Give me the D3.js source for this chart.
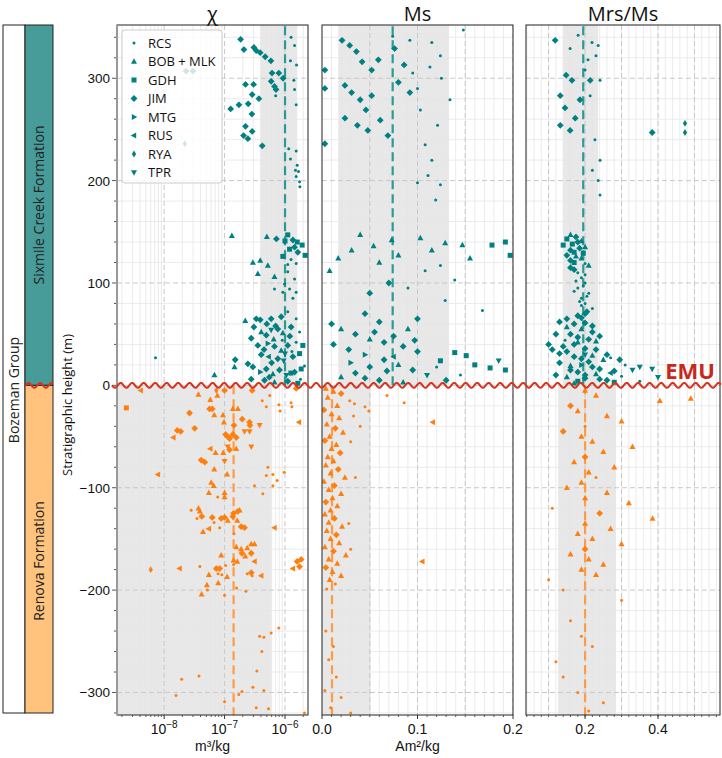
<!DOCTYPE html>
<html>
<head>
<meta charset="utf-8">
<script src="https://cdn.jsdelivr.net/npm/d3@7"></script>
<style>
body { margin: 0; background: #fff; }
text { font-family: "Liberation Sans", Arial, sans-serif; }
</style>
</head>
<body>
<div id="chart"></div>
<script>
var sites = ["RCS", "BOB + MLK", "GDH", "JIM", "MTG", "RUS", "RYA", "TPR"];
var markers = [".", "^", "s", "D", ">", "<", "d", "v"];
var yTicks = [-300, -200, -100, 0, 100, 200, 300];
var chiTicks = [1e-8, 1e-7, 1e-6];
var msTicks = [0, 0.1, 0.2];
var mrsTicks = [0.2, 0.4];

// [height (m), value, site index]
var chiSixmile = [
  [338,1.84e-7,3],[328,2.09e-7,3],[330,3.06e-7,3],[327,3.34e-7,3],[325,3.89e-7,3],[321,4.7e-7,3],[317,5.84e-7,3],
  [340,1.26e-6,0],[332,1.44e-6,0],[317,1.23e-6,0],[313,1.55e-6,0],
  [305,6.1e-7,3],[305,7.9e-7,3],[300,9.3e-7,3],[297,5.9e-7,3],[292,6.7e-7,3],[289,7.1e-7,3],[283,7.0e-7,0],[298,1.4e-6,0],[289,1.44e-6,0],[274,1.53e-6,0],
  [294,2.22e-7,3],[294,3.02e-7,3],[284,2.86e-7,3],[280,3.7e-7,3],[274,1.73e-7,3],[275,2.46e-7,3],[270,1.26e-7,3],[265,2.83e-7,3],[253,2.22e-7,3],[248,2.86e-7,3],[244,2.06e-7,3],[241,2.43e-7,3],[234,4.2e-7,3],
  [307,2.3e-8,3],[307,3.0e-8,3],[236,2.2e-8,6],
  [231,1.15e-6,0],[229,1.53e-6,0],[221,1.23e-6,0],[215,1.59e-6,0],[210,1.49e-6,0],[209,1.67e-6,0],[204,1.53e-6,0],[199,1.74e-6,0],[194,1.76e-6,0],
  [146,1.32e-7,1],[145,5.0e-7,1],[143,7.2e-7,3],[147,1.11e-6,2],[141,1.0e-6,2],[142,1.35e-6,3],[140,1.59e-6,2],[137,1.92e-6,2],[135,1.44e-6,3],[133,1.19e-6,2],[130,1.63e-6,3],[127,2.15e-6,2],[126,9.2e-7,2],[123,1.26e-6,0],[119,1.53e-6,0],[118,1.11e-6,0],
  [120,2.94e-7,1],[122,3.89e-7,1],[109,3.55e-7,1],[117,5.2e-7,1],[106,6.7e-7,1],
  [111,1.11e-6,0],[104,1.44e-6,0],[99,9.8e-7,0],[94,1.19e-6,0],[91,9.2e-7,0],[85,1.35e-6,0],[91,1.53e-6,0],[94,6.7e-7,0],
  [63,2.2e-7,1],[65,3.34e-7,3],[64,3.89e-7,3],[65,5.9e-7,3],[67,8.65e-7,3],[72,1.11e-6,0],[65,1.53e-6,0],
  [57,3.06e-7,3],[52,4.04e-7,1],[46,2.76e-7,3],[49,4.9e-7,3],[54,5.9e-7,7],[55,7.6e-7,3],[51,9.2e-7,1],[57,1.26e-6,3],[52,1.74e-6,0],
  [39,3.55e-7,3],[41,5.2e-7,4],[38,6.7e-7,3],[34,8.65e-7,1],[39,1.11e-6,3],[42,1.53e-6,0],[39,1.97e-6,2],
  [30,4.04e-7,3],[28,5.37e-7,5],[26,7.6e-7,3],[31,1.0e-6,7],[28,1.35e-6,3],[31,1.74e-6,2],
  [25,1.5e-7,3],[18,1.46e-7,1],[21,2.43e-7,3],[18,2.94e-7,3],[13,3.89e-7,4],[16,4.9e-7,3],[11,6.3e-7,1],[15,8.1e-7,3],[10,1.05e-6,7],[13,1.44e-6,3],[16,1.85e-6,2],[19,2.1e-6,0],
  [6,2.76e-7,3],[5,4.58e-7,3],[3,6.7e-7,1],[4,1.11e-6,3],[2,1.63e-6,2],[10,6.8e-8,1],[27,7.2e-9,0],
  [8,5.5e-7,3],[22,6.0e-7,3],[35,4.5e-7,3],[45,6.5e-7,1],[60,5.0e-7,3],[48,1.2e-6,3],[24,9.5e-7,7],[12,1.25e-6,2],[6,1.8e-6,0],[33,1.3e-6,0],[44,9.0e-7,0],[58,7.0e-7,3]
];
var chiRenova = [
  [-5,4.1e-9,5],[-22,2.37e-9,2],[-27,2.63e-8,3],[-9,3.7e-8,1],[-14,5.8e-8,1],[-10,7.6e-8,1],[-5,7.3e-8,6],[-23,5.65e-8,3],[-23,6.25e-8,3],[-29,6.75e-8,1],[-29,9.4e-8,1],[-36,9.75e-8,1],[-23,1.37e-7,1],[-23,1.66e-7,1],[-33,1.96e-7,3],[-39,1.43e-7,3],[-36,2.59e-7,3],[-39,2.63e-7,3],[-39,3.8e-7,7],
  [-15,4.2e-7,0],[-21,4.9e-7,0],[-10,5.6e-7,0],[-19,7.9e-7,0],[-25,8.3e-7,0],[-17,1.26e-6,0],[-21,1.3e-6,0],[-36,1.7e-6,5],[-3,1.53e-6,3],[-5,2.86e-7,3],[-5,1.0e-7,3],
  [-44,1.65e-8,3],[-45,1.88e-8,3],[-42,3.2e-8,3],[-51,1.42e-8,5],
  [-48,1.04e-7,3],[-50,1.13e-7,3],[-52,1.21e-7,3],[-48,1.37e-7,3],[-51,1.56e-7,3],
  [-45,2.14e-7,7],[-45,2.59e-7,7],[-60,1.13e-7,7],[-63,1.21e-7,3],[-62,1.56e-7,1],[-60,2.76e-7,7],
  [-62,5.8e-8,5],[-66,7.1e-8,1],[-66,9.5e-8,1],[-74,1.0e-7,7],[-73,4.1e-8,3],[-75,4.7e-8,3],
  [-82,6.75e-8,1],[-87,1.1e-7,1],[-87,7.9e-9,5],
  [-80,5.2e-7,0],[-88,4.9e-7,0],[-87,6.3e-7,0],[-93,7.4e-7,0],[-85,9.7e-7,0],[-98,6.3e-7,0],
  [-95,6.0e-8,1],[-98,6.6e-8,1],[-105,5.5e-8,1],[-105,1.0e-7,1],[-109,7.7e-8,0],[-109,1.0e-7,1],[-98,3.13e-7,0],[-106,4.3e-7,0],
  [-122,2.8e-8,0],[-120,3.7e-8,1],[-123,3.9e-8,1],[-130,3.5e-8,0],[-128,4.2e-8,3],[-129,6.25e-8,3],[-134,6.7e-8,0],[-130,8.8e-8,3],[-129,1.0e-7,3],[-132,1.13e-7,1],[-128,1.37e-7,3],[-125,1.41e-7,3],[-123,1.66e-7,3],[-122,1.77e-7,1],[-132,1.62e-7,1],[-138,1.88e-7,3],[-139,2.14e-7,3],[-139,8.3e-8,0],[-140,5.5e-8,5],[-143,4.4e-8,1],[-139,6.7e-7,5],[-145,1.43e-7,0],
  [-158,1.56e-7,1],[-160,1.88e-7,1],[-164,1.94e-7,3],[-159,2.37e-7,1],[-155,2.76e-7,1],[-155,3.13e-7,1],[-167,2.2e-7,1],[-164,2.76e-7,3],[-166,8.8e-8,1],[-171,1.41e-7,1],[-172,1.62e-7,1],[-172,3.13e-7,5],[-176,1.04e-7,0],[-175,1.41e-7,0],
  [-170,1.85e-6,3],[-172,1.59e-6,3],[-177,1.74e-6,3],[-179,1.35e-6,5],
  [-180,6.0e-9,6],[-179,1.8e-8,5],[-177,3.9e-8,0],[-179,7.3e-8,3],[-179,8.3e-8,3],[-185,5.5e-8,1],[-184,7.8e-8,0],[-185,9.0e-8,0],[-187,1.1e-7,1],[-184,2.37e-7,0],[-183,2.76e-7,3],[-186,2.86e-7,0],[-186,4.04e-7,5],
  [-195,5.1e-8,1],[-193,7.85e-8,1],[-200,5.2e-8,0],[-204,4.17e-8,1],[-205,1.0e-7,0],[-198,1.58e-7,0],[-201,2.25e-7,0],
  [-237,7.9e-7,0],[-242,5.9e-7,0],[-246,4.47e-7,0],[-245,3.8e-7,0],[-260,4.14e-7,0],[-279,3.42e-7,0],[-287,1.95e-8,0],[-284,3.77e-8,0],[-295,2.94e-7,0],[-298,4.47e-7,0],[-299,1.94e-7,0],[-302,1.72e-7,0],[-303,1.57e-8,0],[-309,1.0e-7,0],[-315,3.34e-7,0],[-316,5.33e-7,0],[-320,2.1e-6,0]
];

var msSixmile = [
  [347,0.148,0],[341,0.074,0],[337,0.092,0],[335,0.115,0],[322,0.124,0],[311,0.113,0],[279,0.134,0],[269,0.103,0],[254,0.121,0],[235,0.108,0],[220,0.115,0],[205,0.111,0],[196,0.124,0],[181,0.119,0],[198,0.1,0],[300,0.125,0],[290,0.1,0],[305,0.095,0],
  [337,0.021,3],[332,0.029,3],[326,0.036,3],[316,0.042,3],[308,0.052,3],[318,0.059,3],[329,0.076,3],[313,0.086,3],[296,0.08,3],[286,0.092,3],[308,0.003,3],[290,0.003,3],[236,0.003,3],[293,0.024,3],[286,0.031,3],[279,0.04,3],[283,0.052,3],[269,0.046,3],[261,0.024,3],[254,0.037,3],[259,0.061,3],[249,0.048,3],[244,0.069,3],
  [147,0.04,1],[136,0.054,1],[142,0.073,1],[144,0.103,1],[139,0.129,1],[137,0.147,1],[124,0.155,1],[132,0.115,1],[127,0.08,1],[120,0.06,1],[132,0.031,1],[124,0.017,1],[112,0.008,1],[137,0.178,2],[140,0.192,2],[127,0.197,2],[112,0.108,0],[117,0.124,0],[103,0.139,0],[83,0.129,0],[73,0.168,0],[95,0.09,0],[100,0.07,3],[90,0.05,3],
  [32,0.139,2],[29,0.151,2],[20,0.16,2],[17,0.176,2],[15,0.192,2],[24,0.185,7],[24,0.124,2],[44,0.097,3],[60,0.01,3],[55,0.02,1],[50,0.035,3],[45,0.05,1],[62,0.06,3],[40,0.012,3],[35,0.028,3],[30,0.045,4],[25,0.065,3],[20,0.08,1],[15,0.095,3],[10,0.11,7],[5,0.13,3],[8,0.02,1],[12,0.035,3],[18,0.05,3],[28,0.075,5],[38,0.085,3],[48,0.075,3],[55,0.09,1],[65,0.1,3],[70,0.045,3],[5,0.06,3],[3,0.085,1],[10,0.145,0],[18,0.12,0],[22,0.03,4],[42,0.065,3],[52,0.055,3],[33,0.1,3],[14,0.068,3],[7,0.045,3]
];
var msRenova = [
  [-3,0.004,1],[-6,0.012,1],[-8,0.02,3],[-10,0.068,0],[-12,0.006,1],[-15,0.029,0],[-17,0.086,0],[-18,0.034,0],[-21,0.045,0],[-25,0.049,0],[-20,0.016,1],[-24,0.002,3],[-28,0.01,1],[-32,0.018,1],[-36,0.116,5],[-38,0.005,1],[-42,0.014,3],[-46,0.022,1],[-50,0.008,1],[-54,0.003,3],[-58,0.015,1],[-62,0.01,1],[-66,0.019,3],[-70,0.006,1],[-74,0.012,1],[-78,0.004,1],[-82,0.017,3],[-86,0.009,1],[-90,0.024,1],[-94,0.002,1],[-98,0.013,3],[-102,0.007,1],[-106,0.02,1],[-110,0.011,1],[-114,0.004,3],[-118,0.016,1],[-122,0.009,1],[-126,0.003,1],[-130,0.013,3],[-134,0.007,1],[-138,0.021,1],[-142,0.005,1],[-146,0.015,3],[-150,0.009,1],[-154,0.018,1],[-158,0.003,1],[-162,0.012,3],[-166,0.025,1],[-170,0.007,1],[-174,0.016,1],[-178,0.004,3],[-182,0.011,1],[-186,0.02,1],[-190,0.008,1],[-194,0.014,0],[-199,0.005,0],
  [-30,0.033,0],[-40,0.04,0],[-55,0.03,0],[-90,0.035,0],[-135,0.028,0],[-172,0.105,5],[-160,0.03,0],[-240,0.004,0],[-255,0.012,0],[-268,0.007,0],[-285,0.015,0],[-298,0.003,0],[-305,0.02,0],[-315,0.009,0],[-320,0.03,0]
];

var mrsSixmile = [
  [337,0.118,3],[329,0.159,0],[342,0.181,0],[335,0.219,0],[332,0.236,0],[318,0.208,0],[322,0.23,0],[303,0.148,3],[298,0.164,3],[308,0.2,0],[298,0.214,3],[298,0.241,0],[283,0.132,3],[271,0.145,3],[261,0.173,3],[279,0.186,3],[254,0.132,3],[249,0.159,3],[283,0.214,0],[240,0.227,0],[220,0.241,0],[200,0.236,0],[186,0.241,0],[210,0.22,0],[256,0.474,6],[247,0.474,6],[247,0.384,3],
  [147,0.16,1],[143,0.15,2],[140,0.18,3],[137,0.14,2],[135,0.2,1],[132,0.16,3],[130,0.17,2],[127,0.15,3],[124,0.19,1],[120,0.17,2],[117,0.21,1],[115,0.16,3],[110,0.18,0],[105,0.19,0],[100,0.2,0],[95,0.18,0],[90,0.21,0],[85,0.19,0],[80,0.2,0],[75,0.22,0],
  [145,0.175,3],[141,0.19,1],[138,0.165,2],[134,0.185,3],[129,0.195,2],[126,0.175,1],[122,0.16,3],[119,0.2,0],[113,0.17,3],[108,0.2,0],[102,0.175,0],[97,0.195,0],[92,0.17,0],[87,0.205,0],[82,0.185,0],[78,0.19,0],[72,0.205,3],[68,0.18,3],
  [65,0.15,3],[60,0.17,3],[55,0.19,1],[50,0.16,3],[45,0.21,3],[42,0.18,1],[38,0.14,3],[35,0.23,3],[30,0.2,7],[28,0.17,3],[25,0.25,1],[22,0.13,3],[20,0.19,4],[18,0.22,3],[15,0.16,3],[12,0.27,5],[10,0.2,3],[8,0.15,1],[6,0.24,3],[4,0.18,2],[3,0.28,2],[20,0.31,0],[15,0.33,7],[10,0.12,3],[40,0.1,3],[30,0.26,3],[48,0.24,3],[58,0.22,3],[62,0.13,3],[70,0.2,3],[25,0.295,3],[18,0.35,7],[9,0.3,0],[35,0.11,3],[44,0.145,0],
  [66,0.19,3],[61,0.2,3],[57,0.15,1],[52,0.22,3],[47,0.18,3],[43,0.23,1],[40,0.17,3],[36,0.2,3],[33,0.15,3],[29,0.22,1],[26,0.19,3],[23,0.21,3],[19,0.16,1],[16,0.24,3],[13,0.18,3],[11,0.23,1],[7,0.2,3],[5,0.26,3],[2,0.17,1],[14,0.28,3],[27,0.27,0],[31,0.13,3],[50,0.12,3],[16,0.384,7],[8,0.4,7],[4,0.35,0]
];
var mrsRenova = [
  [-5,0.2,1],[-10,0.23,1],[-15,0.405,1],[-13,0.49,1],[-20,0.16,3],[-25,0.18,1],[-30,0.26,1],[-35,0.3,1],[-40,0.2,0],[-45,0.14,3],[-50,0.19,1],[-55,0.22,1],[-60,0.33,1],[-65,0.25,1],[-70,0.2,3],[-75,0.17,1],[-80,0.28,1],[-85,0.21,1],[-90,0.23,0],[-95,0.19,1],[-100,0.15,1],[-105,0.26,1],[-110,0.2,1],[-115,0.32,1],[-120,0.11,0],[-125,0.24,3],[-130,0.385,1],[-135,0.2,1],[-140,0.27,1],[-145,0.18,1],[-150,0.22,1],[-155,0.3,1],[-160,0.2,3],[-165,0.16,1],[-170,0.21,1],[-175,0.25,1],[-180,0.19,1],[-185,0.23,1],[-190,0.1,0],[-200,0.14,0],[-210,0.3,0],[-230,0.16,0],[-245,0.19,0],[-255,0.22,0],[-270,0.12,0],[-285,0.14,0],[-300,0.18,0],[-310,0.25,0],[-318,0.21,0]
];

// grey band [low, median, high] for each formation
var chiBandSix = [3.9e-7, 1.0e-6, 1.59e-6];
var chiBandRen = [1e-9, 1.41e-7, 5.9e-7];
var msBandSix = [0.017, 0.074, 0.133];
var msBandRen = [-0.01, 0.0105, 0.051];
var mrsBandSix = [0.14, 0.195, 0.236];
var mrsBandRen = [0.126, 0.2, 0.285];

var teal = "#008080", orange = "#ff7f0e";
var W = 722, H = 758, yTop = 25, yBot = 715;

var svg = d3.select("#chart").append("svg")
    .attr("width", W).attr("height", H);

var y = d3.scaleLinear().domain([-322, 352]).range([yBot, yTop]);

function markerPath(m) {
    switch (m) {
        case ".": return "M1.5,0A1.5,1.5 0 1,1 -1.5,0A1.5,1.5 0 1,1 1.5,0Z";
        case "^": return "M0,-3.3L3,2.2L-3,2.2Z";
        case "v": return "M0,3.3L3,-2.2L-3,-2.2Z";
        case ">": return "M3.3,0L-2.2,-3L-2.2,3Z";
        case "<": return "M-3.3,0L2.2,-3L2.2,3Z";
        case "s": return "M-2.5,-2.5H2.5V2.5H-2.5Z";
        case "D": return "M0,-3.4L3.4,0L0,3.4L-3.4,0Z";
        case "d": return "M0,-3.4L2.1,0L0,3.4L-2.1,0Z";
    }
}

var panels = [
    {title: "\u03c7", label: "m\u00b3/kg", x0: 117, x1: 308,
     x: d3.scaleLog().domain([1.66e-9, 2.4e-6]).range([117, 308]),
     six: chiSixmile, ren: chiRenova, bandSix: chiBandSix, bandRen: chiBandRen,
     ticks: chiTicks, major: chiTicks, minor: [], log: true},
    {title: "Ms", label: "Am\u00b2/kg", x0: 322, x1: 513,
     x: d3.scaleLinear().domain([0, 0.2]).range([322, 513]),
     six: msSixmile, ren: msRenova, bandSix: msBandSix, bandRen: msBandRen,
     ticks: msTicks, major: d3.range(0.05, 0.2, 0.05), minor: d3.range(0.01, 0.2, 0.01)},
    {title: "Mrs/Ms", label: "", x0: 526, x1: 720,
     x: d3.scaleLinear().domain([0.038, 0.57]).range([526, 720]),
     six: mrsSixmile, ren: mrsRenova, bandSix: mrsBandSix, bandRen: mrsBandRen,
     ticks: mrsTicks, major: d3.range(0.1, 0.6, 0.1), minor: d3.range(0.04, 0.57, 0.02)}
];

// log minor lines for chi
[1e-9, 1e-8, 1e-7, 1e-6].forEach(function(d) {
    for (var k = 2; k < 10; k++) {
        var v = k * d;
        if (v > 1.66e-9 && v < 2.4e-6) panels[0].minor.push(v);
    }
});

var defs = svg.append("defs");

panels.forEach(function(p, i) {
    defs.append("clipPath").attr("id", "clip" + i)
        .append("rect").attr("x", p.x0).attr("y", yTop)
        .attr("width", p.x1 - p.x0).attr("height", yBot - yTop);

    var g = svg.append("g").attr("clip-path", "url(#clip" + i + ")");
    var x = p.x;

    // grey bands
    g.append("rect")
        .attr("x", x(p.bandSix[0])).attr("width", x(p.bandSix[2]) - x(p.bandSix[0]))
        .attr("y", yTop).attr("height", y(0) - yTop)
        .attr("fill", "#e8e8e8");
    g.append("rect")
        .attr("x", x(p.bandRen[0])).attr("width", x(p.bandRen[2]) - x(p.bandRen[0]))
        .attr("y", y(0)).attr("height", yBot - y(0))
        .attr("fill", "#e8e8e8");

    // minor grid
    var yMinor = d3.range(-320, 352, 20).filter(function(v) { return v % 100 !== 0; });
    g.selectAll(null).data(yMinor).join("line")
        .attr("x1", p.x0).attr("x2", p.x1)
        .attr("y1", d => y(d)).attr("y2", d => y(d))
        .attr("stroke", "#e6e6e6").attr("stroke-width", 0.8);
    g.selectAll(null).data(p.minor).join("line")
        .attr("x1", d => x(d)).attr("x2", d => x(d))
        .attr("y1", yTop).attr("y2", yBot)
        .attr("stroke", "#e6e6e6").attr("stroke-width", 0.8);

    // major grid
    g.selectAll(null).data(yTicks).join("line")
        .attr("x1", p.x0).attr("x2", p.x1)
        .attr("y1", d => y(d)).attr("y2", d => y(d))
        .attr("stroke", "#c8c8c8").attr("stroke-width", 1)
        .attr("stroke-dasharray", "5,3");
    g.selectAll(null).data(p.major).join("line")
        .attr("x1", d => x(d)).attr("x2", d => x(d))
        .attr("y1", yTop).attr("y2", yBot)
        .attr("stroke", "#c8c8c8").attr("stroke-width", 1)
        .attr("stroke-dasharray", "5,3");

    // medians
    g.append("line")
        .attr("x1", x(p.bandSix[1])).attr("x2", x(p.bandSix[1]))
        .attr("y1", y(0)).attr("y2", yTop)
        .attr("stroke", "#2a9a94").attr("stroke-width", 2.2)
        .attr("stroke-dasharray", "9,5");
    g.append("line")
        .attr("x1", x(p.bandRen[1])).attr("x2", x(p.bandRen[1]))
        .attr("y1", y(0)).attr("y2", yBot)
        .attr("stroke", "#ff9a45").attr("stroke-width", 2.2)
        .attr("stroke-dasharray", "9,5");

    // points
    g.selectAll(null).data(p.six).join("path")
        .attr("d", d => markerPath(markers[d[2]]))
        .attr("transform", d => "translate(" + x(d[1]) + "," + y(d[0]) + ")")
        .attr("fill", teal);
    g.selectAll(null).data(p.ren).join("path")
        .attr("d", d => markerPath(markers[d[2]]))
        .attr("transform", d => "translate(" + x(d[1]) + "," + y(d[0]) + ")")
        .attr("fill", orange);

    // frame
    svg.append("rect")
        .attr("x", p.x0).attr("y", yTop)
        .attr("width", p.x1 - p.x0).attr("height", yBot - yTop)
        .attr("fill", "none").attr("stroke", "#222").attr("stroke-width", 1);

    // x ticks
    var ax = svg.append("g");
    ax.selectAll(null).data(p.minor).join("line")
        .attr("x1", d => x(d)).attr("x2", d => x(d))
        .attr("y1", yBot).attr("y2", yBot + 2)
        .attr("stroke", "#555");
    ax.selectAll(null).data(p.ticks).join("line")
        .attr("x1", d => x(d)).attr("x2", d => x(d))
        .attr("y1", yBot).attr("y2", yBot + 4)
        .attr("stroke", "#333");
    var lbl = ax.selectAll(null).data(p.ticks).join("text")
        .attr("x", d => x(d)).attr("y", yBot + 19)
        .attr("text-anchor", "middle")
        .attr("font-size", 14).attr("fill", "#111");
    if (p.log) {
        lbl.each(function(d) {
            var t = d3.select(this);
            t.append("tspan").text("10");
            t.append("tspan").attr("dy", -6).attr("font-size", 10)
                .text("\u2212" + Math.round(-Math.log10(d)));
        });
    } else {
        lbl.text(d => d3.format(".1f")(d));
    }
    if (p.label) {
        svg.append("text")
            .attr("x", (p.x0 + p.x1) / 2).attr("y", yBot + 36)
            .attr("text-anchor", "middle").attr("font-size", 14)
            .attr("fill", "#111").text(p.label);
    }

    // titles
    svg.append("text")
        .attr("x", (p.x0 + p.x1) / 2).attr("y", 21)
        .attr("text-anchor", "middle")
        .style("font-family", "'Open Sans', sans-serif")
        .attr("font-size", 20).attr("fill", "#111")
        .text(p.title);
});

// panel 1 left spine grey
svg.append("line")
    .attr("x1", 117).attr("x2", 117).attr("y1", yTop).attr("y2", yBot)
    .attr("stroke", "#999").attr("stroke-width", 2);

// y axis
var ya = svg.append("g");
ya.selectAll(null).data(d3.range(-320, 352, 20)).join("line")
    .attr("x1", 116).attr("x2", d => d % 100 === 0 ? 112 : 114)
    .attr("y1", d => y(d)).attr("y2", d => y(d))
    .attr("stroke", "#555");
ya.selectAll(null).data(yTicks).join("text")
    .attr("x", 110).attr("y", d => y(d) + 5)
    .attr("text-anchor", "end").attr("font-size", 13.5).attr("fill", "#111")
    .text(d => d < 0 ? "\u2212" + Math.abs(d) : d);
svg.append("text")
    .attr("transform", "translate(72,405) rotate(-90)")
    .attr("text-anchor", "middle")
    .style("font-family", "'Open Sans', sans-serif")
    .attr("font-size", 13).attr("fill", "#111")
    .text("Stratigraphic height (m)");

// stratigraphic column
svg.append("rect").attr("x", 3).attr("y", yTop).attr("width", 22).attr("height", 688)
    .attr("fill", "#fff").attr("stroke", "#222");
svg.append("rect").attr("x", 25).attr("y", yTop).attr("width", 28).attr("height", y(0) - yTop)
    .attr("fill", "#479c99").attr("stroke", "#222");
svg.append("rect").attr("x", 25).attr("y", y(0)).attr("width", 28).attr("height", 713 - y(0))
    .attr("fill", "#ffc37e").attr("stroke", "#222");
[["Bozeman Group", 14, 390], ["Sixmile Creek Formation", 39, 205], ["Renova Formation", 39, 561]].forEach(function(t) {
    svg.append("text")
        .attr("transform", "translate(" + (t[1] + 5) + "," + t[2] + ") rotate(-90)")
        .attr("text-anchor", "middle")
        .style("font-family", "'Open Sans', sans-serif")
        .attr("font-size", 14).attr("fill", "#222")
        .text(t[0]);
});

// unconformity
function wave(xa, xb) {
    var pts = d3.range(xa, xb + 0.5, 0.5).map(function(xx) {
        return [xx, y(0) + 2.4 * Math.sin(2 * Math.PI * (xx - 112) / 11.5)];
    });
    svg.append("path").attr("d", d3.line()(pts))
        .attr("fill", "none").attr("stroke", "#d6331f").attr("stroke-width", 2);
}
wave(112, 721);
wave(25, 53);
svg.append("text")
    .attr("x", 690).attr("y", 379)
    .attr("text-anchor", "middle")
    .style("font-family", "'Open Sans', sans-serif")
    .attr("font-weight", "bold").attr("font-size", 22)
    .attr("fill", "#c8281c").text("EMU");

// legend
var leg = svg.append("g");
leg.append("rect").attr("x", 122).attr("y", 30).attr("width", 100).attr("height", 153)
    .attr("rx", 3).attr("fill", "#fff").attr("fill-opacity", 0.8)
    .attr("stroke", "#ccc");
sites.forEach(function(s, i) {
    var yy = 43 + i * 18.5;
    leg.append("path").attr("d", markerPath(markers[i]))
        .attr("transform", "translate(134," + yy + ")").attr("fill", teal);
    leg.append("text").attr("x", 148).attr("y", yy + 4.5)
        .style("font-family", "'Open Sans', sans-serif")
        .attr("font-size", 13).attr("fill", "#111").text(s);
});
</script>
</body>
</html>
